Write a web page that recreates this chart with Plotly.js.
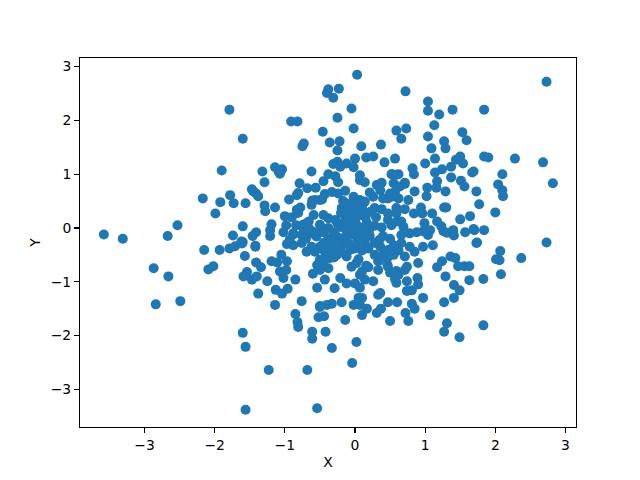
<!DOCTYPE html>
<html><head><meta charset="utf-8">
<script src="https://cdn.plot.ly/plotly-3.0.1.min.js"></script>
<style>html,body{margin:0;padding:0;background:#fff}#c{width:640px;height:480px}</style>
</head><body><div id="c"></div>
<script>
const xValues = [-1.79,-0.91,-0.82,-0.46,-1.60,-0.73,-0.75,-0.36,-0.38,-0.40,-1.90,-1.32,-1.14,-1.04,-1.09,-1.07,-0.62,-0.38,-1.29,-0.79,-0.45,-0.68,-0.56,-1.47,-1.45,-1.41,-1.38,-2.17,-1.78,-1.92,-1.73,-1.56,-1.99,-1.29,-1.28,-1.14,-0.94,-0.81,-0.83,-0.61,-0.62,-0.43,-0.47,-0.78,-0.83,-0.81,-1.00,-0.90,-0.59,-0.45,-1.60,-1.19,-1.21,-1.21,-0.98,-1.02,-0.84,-0.69,-0.74,-0.64,-0.50,-0.47,-0.88,-1.41,-1.46,-1.74,-1.62,-2.67,-2.53,-3.58,-3.31,
0.03,2.73,-0.23,-0.31,0.72,1.04,1.04,1.20,1.39,1.84,-0.05,-0.25,-0.02,0.59,0.73,0.66,1.13,1.04,1.53,1.59,1.27,1.29,1.09,-0.22,-0.25,0.09,0.37,0.16,0.26,0.57,0.42,1.00,1.14,1.50,1.44,1.37,1.54,1.84,1.90,2.28,2.68,2.82,2.10,2.04,2.10,2.11,1.69,1.67,1.51,1.56,1.73,1.77,2.00,1.37,1.24,1.14,1.17,1.16,0.82,0.84,1.03,1.02,1.29,1.27,1.30,1.64,1.50,1.69,1.57,1.84,1.70,1.74,2.73,
0.94,1.10,1.17,0.99,1.07,1.26,1.31,1.40,1.41,1.23,0.97,0.88,0.78,0.96,0.84,0.85,0.76,0.71,0.59,0.52,
0.53,0.62,0.38,0.31,0.36,0.21,0.26,0.14,0.07,0.07,0.55,0.71,0.64,0.57,0.50,0.47,0.62,0.40,0.52,0.07,0.14,0.10,0.12,0.28,0.38,0.47,0.59,0.71,0.59,0.66,0.69,0.17,0.28,0.38,0.07,
-0.24,-0.28,-0.25,-0.12,0.00,-0.02,-0.31,-0.21,-0.33,-0.24,-0.14,-0.02,0.00,0.05,-0.50,-0.57,-0.19,-0.17,-0.38,-0.28,-0.66,-0.74,-0.07,-0.12,-0.02,-0.38,-0.21,-0.07,0.02,
-1.60,-1.42,-1.57,-1.41,-1.34,-1.19,-1.11,-1.05,-0.97,-1.07,-0.98,-1.02,-1.54,-1.59,-1.47,-1.40,-1.25,-0.85,-1.38,-1.13,-1.04,-0.96,-0.76,-1.14,-0.54,-0.29,-0.43,-0.60,-0.50,-0.54,-0.45,-0.38,-0.50,-0.69,-0.57,-0.50,-0.62,-0.97,-0.88,-0.76,-0.93,-0.88,-0.76,-0.64,-0.55,-0.38,-0.26,-0.17,-0.07,0.02,-0.43,-0.31,-0.19,-0.07,0.00,-0.26,-0.36,-0.12,-0.05,0.02,-0.21,-0.12,0.00,-0.02,-0.19,-0.50,-0.40,-0.33,0.05,
-2.15,-1.93,-1.79,-1.71,-1.61,-1.42,-2.02,-2.09,-2.87,-2.66,-2.84,-2.49,-0.85,-0.82,-0.81,-0.50,-0.52,-0.44,-0.61,-0.61,-0.42,-1.60,-1.56,-1.23,-0.68,-1.56,-0.54,-0.33,
-0.04,0.02,-0.14,0.10,0.17,0.31,0.37,0.50,0.72,0.76,0.81,0.85,1.07,1.31,1.27,1.49,1.83,1.27,1.41,0.97,1.41,1.49,1.29,1.63,1.83,2.08,1.17,1.24,1.36,1.43,1.47,1.56,1.63,2.07,2.01,2.06,2.37,0.90,0.89,0.90,0.81,0.74,0.74,0.59,0.57,0.62,0.59,0.50,0.46,0.46,0.33,0.33,0.19,0.16,0.05,0.07,0.14,0.26,0.07,0.07,0.10,0.33,0.36,0.47,0.60,
1.73,1.11,0.97,0.71,0.85,0.78,0.66,0.55,0.47,0.36,0.28,0.19,0.14,0.21,0.40,0.66,1.04,0.47,0.71,0.57,0.74,0.10,
-0.17,-0.10,-0.05,-0.14,-0.20,-0.10,-0.03,0.03,-0.15,-0.08,0.00,0.04,-0.25,-0.13,-0.03,0.05,-0.30,-0.45,-0.58,-0.70,-0.45,-0.33,-0.22,-0.10,0.02,0.08,0.12,0.20,-0.38,-0.30,-0.42,-0.20,0.10,0.28,0.40,0.55,0.62,0.35,0.50,0.52,0.22,0.30,0.47,0.15,0.60];
const yValues = [2.20,1.98,1.98,1.79,1.66,1.57,1.52,1.59,2.58,2.51,1.07,1.05,1.13,1.09,1.05,1.01,1.05,1.00,0.85,0.83,0.87,0.74,0.75,0.72,0.68,0.64,0.59,0.55,0.61,0.48,0.46,0.46,0.27,0.42,0.31,0.38,0.53,0.65,0.61,0.51,0.43,0.63,0.53,0.38,0.34,0.28,0.22,0.20,0.24,0.24,0.03,0.07,-0.04,-0.15,0.05,-0.08,0.05,0.09,0.00,-0.03,0.06,-0.03,-0.12,-0.08,-0.15,-0.14,-0.25,-0.15,0.05,-0.12,-0.20,
2.85,2.72,2.59,2.42,2.54,2.35,2.18,2.11,2.20,2.20,2.22,2.05,1.85,1.81,1.85,1.66,1.91,1.70,1.78,1.63,1.61,1.48,1.48,1.61,1.44,1.52,1.55,1.31,1.33,1.29,1.22,1.20,1.29,1.33,1.27,1.14,1.20,1.33,1.31,1.29,1.22,0.83,1.00,0.81,0.70,0.59,1.05,1.03,0.88,0.77,0.68,0.44,0.29,0.94,1.09,1.03,0.87,0.75,1.11,1.00,0.75,0.59,0.68,0.38,0.38,0.22,0.16,-0.02,-0.08,-0.04,-0.04,-0.27,-0.27,
0.38,0.27,0.12,0.09,-0.04,-0.06,-0.09,-0.04,-0.14,0.03,-0.06,-0.08,-0.10,0.27,0.27,0.68,0.52,0.82,0.99,1.00,
1.00,1.00,0.84,0.80,0.70,0.66,0.58,0.85,0.89,0.98,0.83,0.84,0.77,0.67,0.64,0.55,0.55,0.55,0.58,0.52,0.49,0.40,0.30,0.37,0.35,0.27,0.37,0.35,0.27,0.12,0.02,0.09,0.04,0.01,0.01,
0.85,0.96,1.23,1.20,1.29,1.13,1.19,1.14,0.67,0.64,0.69,0.58,0.46,0.37,0.52,0.52,0.37,0.27,0.18,0.15,0.12,0.06,0.33,0.21,0.15,0.00,0.02,0.02,0.06,
-0.26,-0.33,-0.52,-0.64,-0.73,-0.62,-0.64,-0.50,-0.62,-0.81,-0.78,-0.93,-0.82,-0.90,-0.96,-0.90,-0.99,-0.96,-1.22,-1.15,-1.22,-1.13,-1.36,-1.43,-1.11,-1.12,-0.96,-0.85,-0.78,-0.69,-0.65,-0.75,-0.59,-0.44,-0.44,-0.35,-0.35,-0.30,-0.32,-0.28,-0.22,-0.10,-0.13,-0.10,-0.16,-0.19,-0.16,-0.19,-0.13,-0.16,-0.44,-0.41,-0.32,-0.41,-0.38,-0.50,-0.56,-0.53,-0.72,-0.65,-0.93,-1.03,-1.03,-1.43,-1.38,-1.45,-1.43,-1.41,-1.30,
-0.41,-0.41,-0.38,-0.34,-0.29,-0.35,-0.71,-0.77,-0.75,-0.90,-1.42,-1.36,-1.60,-1.75,-1.84,-1.47,-1.66,-1.64,-1.93,-2.06,-1.93,-1.95,-2.21,-2.64,-2.64,-3.38,-3.35,-2.23,
-2.51,-2.12,-1.71,-1.62,-1.50,-1.58,-1.50,-1.73,-1.58,-1.73,-1.41,-1.50,-1.62,-1.77,-1.93,-2.03,-1.81,-1.38,-1.30,-1.30,-1.06,-1.16,-0.90,-0.97,-0.95,-0.86,-0.73,-0.62,-0.53,-0.56,-0.71,-0.71,-0.71,-0.43,-0.58,-0.60,-0.56,-0.65,-0.93,-1.05,-1.16,-1.17,-0.99,-1.02,-0.95,-0.87,-0.80,-0.83,-0.68,-0.56,-0.62,-0.78,-0.73,-0.70,-0.58,-0.87,-0.96,-0.99,-1.11,-1.43,-1.30,-1.24,-1.21,-1.38,-1.38,
-0.28,-0.32,-0.35,-0.53,-0.44,-0.35,-0.28,-0.32,-0.41,-0.35,-0.28,-0.38,-0.28,-0.15,-0.15,-0.13,-0.13,-0.72,-0.78,-0.84,-0.72,-0.81,
0.50,0.45,0.40,0.40,0.28,0.27,0.25,0.30,0.12,0.10,0.15,0.22,0.08,-0.03,-0.05,-0.08,-0.08,-0.08,-0.08,-0.20,-0.28,-0.30,-0.28,-0.28,-0.28,-0.22,-0.08,-0.05,-0.35,-0.55,-0.55,-0.45,-0.42,-0.50,-0.50,-0.50,-0.42,-0.22,-0.20,0.05,0.30,0.20,0.15,0.20,0.12];
const xTickVals = [-3,-2,-1,0,1,2,3];
const yTickVals = [-3,-2,-1,0,1,2,3];
const axisFont = {family:'"DejaVu Sans", sans-serif', size:13.9, color:'#000'};
const base = {showgrid:false, zeroline:false, showline:true, mirror:true, linecolor:'#000', linewidth:1.1,
  ticks:'outside', ticklen:4.9, tickwidth:1.1, tickcolor:'#000', tickfont:axisFont};
Plotly.newPlot('c',[{type:'scatter',mode:'markers',x:xValues,y:yValues,
  marker:{color:'#1f77b4',size:10,line:{width:0}}}],{
  width:640,height:480,showlegend:false,paper_bgcolor:'#fff',plot_bgcolor:'#fff',
  margin:{l:80,r:64,t:57.6,b:52.8,pad:0},
  font:axisFont,
  xaxis:Object.assign({},base,{range:[-3.92,3.15],tickvals:xTickVals,title:{text:'X',font:axisFont,standoff:5}}),
  yaxis:Object.assign({},base,{range:[-3.70,3.16],tickvals:yTickVals,title:{text:'Y',font:axisFont,standoff:6}})
},{displayModeBar:false,staticPlot:true});
</script></body></html>
